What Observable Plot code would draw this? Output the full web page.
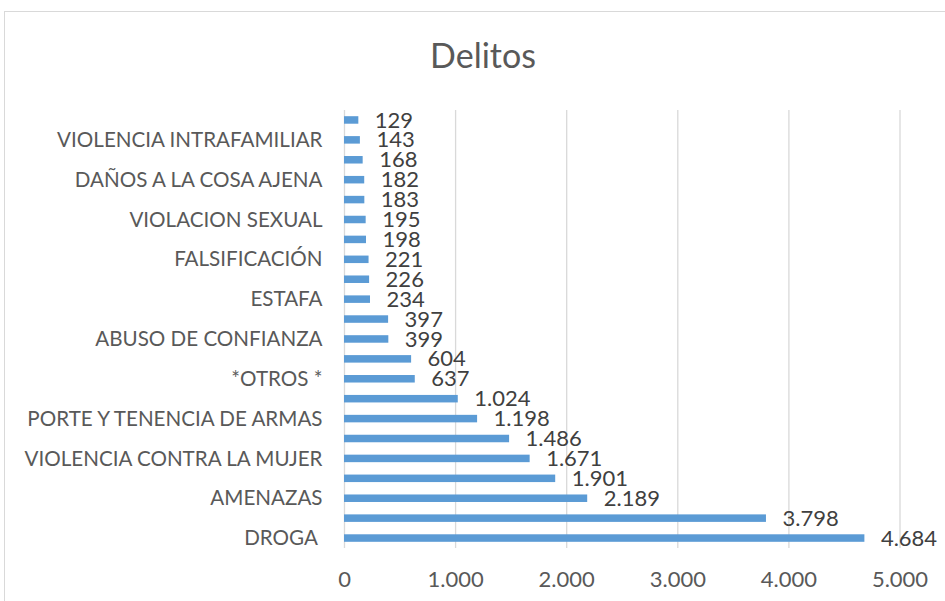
<!DOCTYPE html>
<html><head><meta charset="utf-8">
<script src="https://cdn.jsdelivr.net/npm/d3@7"></script>
<script src="https://cdn.jsdelivr.net/npm/@observablehq/plot@0.6"></script>
<style>
body{margin:0;background:#fff;}
#wrap{position:relative;width:945px;height:601px;overflow:hidden;font-family:Lato,sans-serif;}
#frame{position:absolute;left:4px;top:11px;width:958px;height:620px;border:1px solid #d9d9d9;box-sizing:border-box;}
#title{position:absolute;left:4px;width:958px;top:33px;text-align:center;font-size:34px;line-height:44px;color:#595959;}
#chart{position:absolute;left:0;top:100px;}
</style></head>
<body><div id="wrap"><div id="frame"></div><div id="title">Delitos</div><div id="chart"></div></div>
<script>
const categories = ["", "VIOLENCIA INTRAFAMILIAR", "", "DAÑOS A LA COSA AJENA", "", "VIOLACION SEXUAL", "", "FALSIFICACIÓN", "", "ESTAFA", "", "ABUSO DE CONFIANZA", "", "*OTROS *", "", "PORTE Y TENENCIA DE ARMAS", "", "VIOLENCIA CONTRA LA MUJER", "", "AMENAZAS", "", "DROGA\u00a0"];
const values = [129, 143, 168, 182, 183, 195, 198, 221, 226, 234, 397, 399, 604, 637, 1024, 1198, 1486, 1671, 1901, 2189, 3798, 4684];
const xTicks = [0, 1000, 2000, 3000, 4000, 5000];

const fmt = d3.formatLocale({decimal: ",", thousands: ".", grouping: [3], currency: ["", ""]}).format(",d");
const data = values.map((v, i) => ({i, value: v}));

const plot = Plot.plot({
  width: 945, height: 501,
  marginLeft: 344, marginRight: 45.5, marginTop: 10, marginBottom: 53,
  style: {fontFamily: "Lato, sans-serif", background: "transparent"},
  x: {domain: [0, 5000], label: null},
  y: {domain: d3.range(categories.length), padding: 0, round: false, label: null},
  marks: [
    Plot.gridX(xTicks, {stroke: "#d9d9d9", strokeOpacity: 1, strokeWidth: 1.3}),
    Plot.barX(data, {x: "value", y: "i", fill: "#5b9bd5", insetTop: 6.2, insetBottom: 6.2}),
    Plot.text(data, {x: "value", y: "i", text: d => fmt(d.value), textAnchor: "start", dx: 16, fontSize: 22, fill: "#404040"}),
    Plot.axisX(xTicks, {tickSize: 0, tickPadding: 23, tickFormat: fmt, fontSize: 22, fill: "#595959", label: null}),
    Plot.axisY({tickSize: 0, tickPadding: 22, tickFormat: i => categories[i], fontSize: 20.6, fill: "#595959", label: null})
  ]
});
document.getElementById("chart").appendChild(plot);
</script>
</body></html>
